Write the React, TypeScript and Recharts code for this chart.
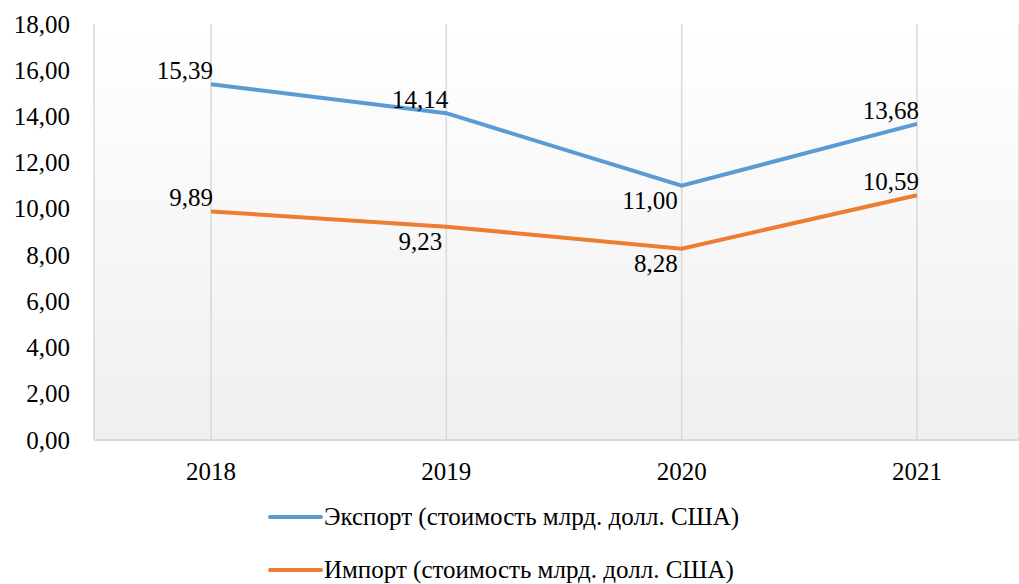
import React from "react";
import { LineChart, Line, XAxis, YAxis, CartesianGrid, Legend } from "recharts";

const years = ["2018", "2019", "2020", "2021"];
const exportValues = [15.39, 14.14, 11.0, 13.68];
const importValues = [9.89, 9.23, 8.28, 10.59];
const yTicks = [0, 2, 4, 6, 8, 10, 12, 14, 16, 18];
const exportLabelSide = ["above", "above", "below", "above"];
const importLabelSide = ["above", "below", "below", "above"];
const exportName = "Экспорт (стоимость млрд. долл. США)";
const importName = "Импорт (стоимость млрд. долл. США)";

const data = years.map((year, i) => ({
  year,
  exp: exportValues[i],
  imp: importValues[i],
}));

const FONT = "'Liberation Serif', 'Times New Roman', serif";
const FS = 25;
const BLUE = "#5B9BD5";
const ORANGE = "#ED7D31";

const fmt = (v: number) => v.toFixed(2).replace(".", ",");

const makeLabel = (sides: string[]) => (props: any) => {
  const { x, y, value, index } = props;
  const below = sides[index] === "below";
  return (
    <text
      key={`lbl-${index}`}
      x={below ? x - 4 : x + 2}
      y={below ? y + 23 : y - 5}
      textAnchor="end"
      fontFamily={FONT}
      fontSize={FS}
      fill="#000"
    >
      {fmt(Number(value))}
    </text>
  );
};

const YTick = (props: any) => {
  const { y, payload } = props;
  return (
    <text x={70} y={y} dy="0.34em" textAnchor="end" fontFamily={FONT} fontSize={FS} fill="#000">
      {fmt(Number(payload.value))}
    </text>
  );
};

const XTick = (props: any) => {
  const { x, payload } = props;
  return (
    <text x={x} y={480} textAnchor="middle" fontFamily={FONT} fontSize={FS} fill="#000">
      {payload.value}
    </text>
  );
};

const LegendContent = () => {
  const rows = [
    { name: exportName, color: BLUE },
    { name: importName, color: ORANGE },
  ];
  return (
    <div style={{ position: "relative", width: 1019, height: 94 }}>
      {rows.map((r, i) => (
        <div
          key={r.name}
          style={{
            position: "absolute",
            left: 267,
            top: 27 + i * 53 - 16,
            height: 32,
            display: "flex",
            alignItems: "center",
            whiteSpace: "nowrap",
          }}
        >
          <svg width={57} height={10} style={{ display: "block" }}>
            <line x1={3} y1={5} x2={54} y2={5} stroke={r.color} strokeWidth={4} strokeLinecap="round" />
          </svg>
          <span style={{ fontFamily: FONT, fontSize: FS, color: "#000", lineHeight: "32px" }}>{r.name}</span>
        </div>
      ))}
    </div>
  );
};

export default function App() {
  return (
    <div style={{ position: "absolute", left: 0, top: 0, width: 1019, height: 584, background: "#fff" }}>
      <LineChart
        width={1019}
        height={584}
        data={data}
        margin={{ top: 24, right: 0, bottom: 0, left: 0 }}
      >
        <defs>
          <linearGradient id="plotBg" x1="0" y1="0" x2="0" y2="1">
            <stop offset="0%" stopColor="#ffffff" />
            <stop offset="100%" stopColor="#efefef" />
          </linearGradient>
        </defs>
        <CartesianGrid
          horizontal={false}
          vertical={true}
          stroke="#d9d9d9"
          strokeWidth={1.5}
          fill="url(#plotBg)"
          fillOpacity={1}
        />
        <XAxis
          dataKey="year"
          height={50}
          padding={{ left: 117, right: 102 }}
          axisLine={{ stroke: "#d9d9d9", strokeWidth: 2 }}
          tickLine={false}
          tick={<XTick />}
          interval={0}
        />
        <YAxis
          width={94}
          domain={[0, 18]}
          ticks={yTicks}
          axisLine={false}
          tickLine={false}
          tick={<YTick />}
          interval={0}
        />
        <Legend verticalAlign="bottom" align="center" layout="vertical" height={94} content={<LegendContent />} />
        <Line
          type="linear"
          dataKey="exp"
          name={exportName}
          stroke={BLUE}
          strokeWidth={4}
          dot={false}
          activeDot={false}
          isAnimationActive={false}
          label={makeLabel(exportLabelSide)}
        />
        <Line
          type="linear"
          dataKey="imp"
          name={importName}
          stroke={ORANGE}
          strokeWidth={4}
          dot={false}
          activeDot={false}
          isAnimationActive={false}
          label={makeLabel(importLabelSide)}
        />
      </LineChart>
    </div>
  );
}
